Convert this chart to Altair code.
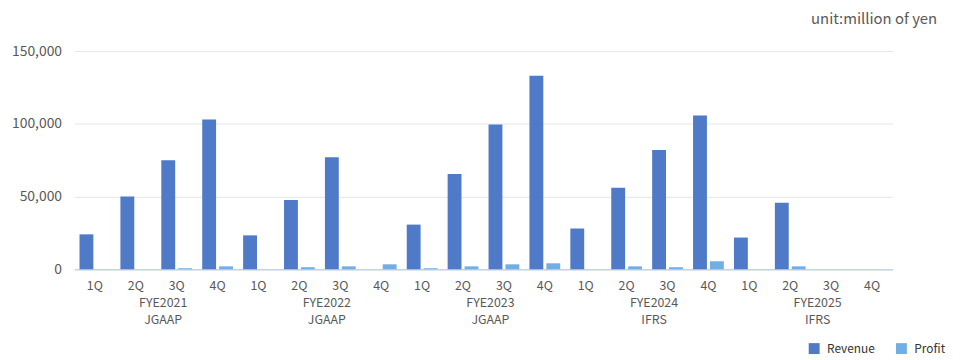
import altair as alt
import pandas as pd

fiscal_years = ["FYE2021", "FYE2022", "FYE2023", "FYE2024", "FYE2025"]
standards = ["JGAAP", "JGAAP", "JGAAP", "IFRS", "IFRS"]
quarters = ["1Q", "2Q", "3Q", "4Q"]
series_names = ["Revenue", "Profit"]
series_colors = ["#4e7ac8", "#72aee6"]

revenue = [24000, 50000, 75000, 103000,
           23300, 47700, 77000, None,
           30700, 65500, 99600, 133000,
           28000, 56000, 82000, 105700,
           21800, 45700, None, None]
profit = [None, None, 700, 2000,
          None, 1400, 2000, 3400,
          700, 2000, 3400, 4100,
          None, 2000, 1400, 5500,
          None, 2000, None, None]

unit_text = "unit:million of yen"
y_ticks = [0, 50000, 100000, 150000]

FONT = "Noto Sans CJK JP"
GREY = "#595959"

keys = [f"{fy}-{q}" for fy in fiscal_years for q in quarters]

rows = []
for i, k in enumerate(keys):
    if revenue[i] is not None:
        rows.append({"key": k, "series": "Revenue", "value": revenue[i]})
    if profit[i] is not None:
        rows.append({"key": k, "series": "Profit", "value": profit[i]})
bars_df = pd.DataFrame(rows)

groups_df = pd.DataFrame({
    "key": [f"{fy}-3Q" for fy in fiscal_years],
    "label": [f"{fy}\n{s}" for fy, s in zip(fiscal_years, standards)],
})

x_scale = alt.Scale(domain=keys, paddingInner=0, paddingOuter=0)

bars = alt.Chart(bars_df).mark_bar().encode(
    x=alt.X("key:N", scale=x_scale, sort=keys,
            axis=alt.Axis(title=None, labelAngle=0, ticks=False, grid=False,
                          labelExpr="split(datum.label, '-')[1]",
                          labelFontSize=12.5, labelPadding=10, labelColor=GREY,
                          labelFont=FONT, domainColor="#c5d3e8", domainWidth=1.5)),
    xOffset=alt.XOffset("series:N", sort=series_names,
                        scale=alt.Scale(domain=series_names, paddingInner=0.18, paddingOuter=0.3)),
    y=alt.Y("value:Q", scale=alt.Scale(domain=[0, 150000], nice=False),
            axis=alt.Axis(title=None, values=y_ticks, format=",.0f", domain=False, ticks=False,
                          labelFontSize=14, labelPadding=13, labelColor=GREY, labelFont=FONT,
                          gridColor="#e6e6e6", gridWidth=1)),
    color=alt.Color("series:N", sort=series_names,
                    scale=alt.Scale(domain=series_names, range=series_colors),
                    legend=alt.Legend(title=None, orient="none", legendX=740, legendY=294,
                                      direction="horizontal", symbolType="square",
                                      symbolSize=121, symbolStrokeWidth=0,
                                      labelFontSize=12, labelColor="#333333", labelFont=FONT,
                                      labelOffset=7, columnPadding=20, symbolOffset=0)),
)

group_labels = alt.Chart(groups_df).mark_text(
    fontSize=12.5, color=GREY, font=FONT, lineBreak="\n", lineHeight=17,
    baseline="middle", align="center", dx=7,
).encode(
    x=alt.X("key:N", scale=x_scale, bandPosition=0),
    y=alt.value(254),
    text="label:N",
)

unit = alt.Chart(pd.DataFrame({"t": [unit_text]})).mark_text(
    fontSize=15, color=GREY, font=FONT, align="right", baseline="middle",
).encode(
    x=alt.value(870),
    y=alt.value(-32),
    text="t:N",
)

chart = alt.layer(bars, group_labels, unit).properties(
    width=825, height=220,
    autosize=alt.AutoSizeParams(type="none"),
    padding={"left": 67, "top": 42, "right": 60, "bottom": 86},
).configure_view(stroke=None)

chart.save("out.html", embed_options={"renderer": "svg", "actions": False})
